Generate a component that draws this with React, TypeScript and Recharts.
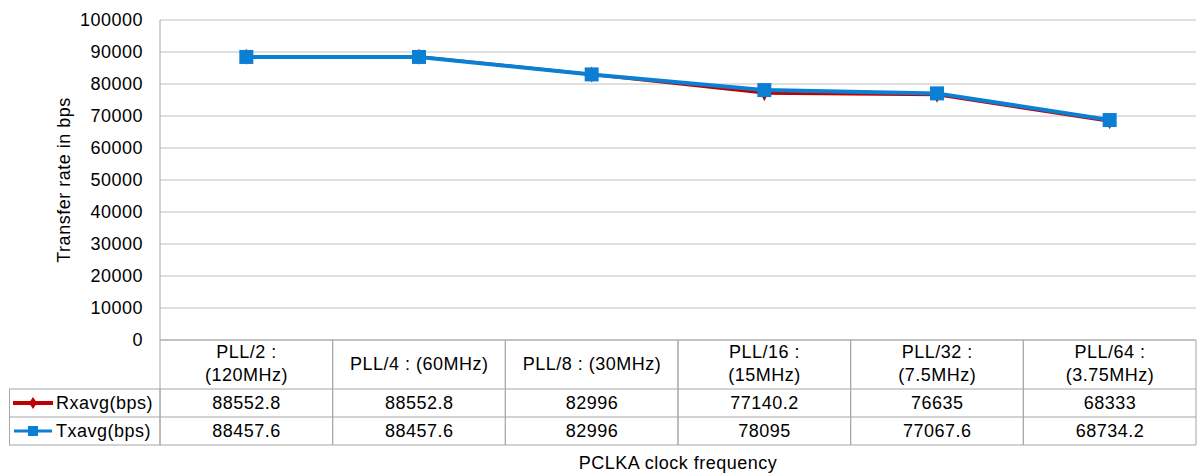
import { LineChart, Line, XAxis, YAxis, CartesianGrid } from 'recharts'

const categories = [
  'PLL/2 : (120MHz)',
  'PLL/4 : (60MHz)',
  'PLL/8 : (30MHz)',
  'PLL/16 : (15MHz)',
  'PLL/32 : (7.5MHz)',
  'PLL/64 : (3.75MHz)',
]
const headerLines = [
  ['PLL/2 :', '(120MHz)'],
  ['PLL/4 : (60MHz)'],
  ['PLL/8 : (30MHz)'],
  ['PLL/16 :', '(15MHz)'],
  ['PLL/32 :', '(7.5MHz)'],
  ['PLL/64 :', '(3.75MHz)'],
]
const rxValues = [88552.8, 88552.8, 82996, 77140.2, 76635, 68333]
const txValues = [88457.6, 88457.6, 82996, 78095, 77067.6, 68734.2]
const yTicks = [0, 10000, 20000, 30000, 40000, 50000, 60000, 70000, 80000, 90000, 100000]

const data = categories.map((category, i) => ({
  category,
  rx: rxValues[i],
  tx: txValues[i],
}))

const W = 1197
const H = 473
const PLOT_LEFT = 160
const PLOT_RIGHT = 1196
const PLOT_TOP = 20
const PLOT_BOTTOM = 340
const COL_W = (PLOT_RIGHT - PLOT_LEFT) / categories.length
const ROW1 = 389
const ROW2 = 417
const ROW3 = 445
const BORDER = '#a6a6a6'
const RED = '#c00000'
const BLUE = '#0a7fd4'
const FONT = '"Liberation Sans", Arial, sans-serif'
const FS = 18
const LS = 0.5

function TableTick(props: any) {
  const { x, payload } = props
  const i = payload.index
  const lines = headerLines[i]
  const left = x - COL_W / 2
  const right = x + COL_W / 2
  const cx = x + LS / 2
  return (
    <g fontFamily={FONT} fontSize={FS} fill="#000" letterSpacing={LS}>
      {lines.length === 1 ? (
        <text x={cx} y={PLOT_BOTTOM + 25} textAnchor="middle" dominantBaseline="middle">
          {lines[0]}
        </text>
      ) : (
        lines.map((l, k) => (
          <text key={k} x={cx} y={PLOT_BOTTOM + 13 + k * 23} textAnchor="middle" dominantBaseline="middle">
            {l}
          </text>
        ))
      )}
      <text x={cx} y={(ROW1 + ROW2) / 2 + 1} textAnchor="middle" dominantBaseline="middle">
        {String(rxValues[i])}
      </text>
      <text x={cx} y={(ROW2 + ROW3) / 2 + 1} textAnchor="middle" dominantBaseline="middle">
        {String(txValues[i])}
      </text>
      <line x1={right} y1={PLOT_BOTTOM} x2={right} y2={ROW3} stroke={BORDER} />
      <line x1={left} y1={PLOT_BOTTOM} x2={left} y2={ROW3} stroke={BORDER} />
      <line x1={left} y1={ROW1} x2={right} y2={ROW1} stroke={BORDER} />
      <line x1={left} y1={ROW2} x2={right} y2={ROW2} stroke={BORDER} />
      <line x1={left} y1={ROW3} x2={right} y2={ROW3} stroke={BORDER} />
      {i === 0 && (
        <g>
          <rect x={9.5} y={ROW1} width={PLOT_LEFT - 9.5} height={ROW3 - ROW1} fill="none" stroke={BORDER} />
          <line x1={9.5} y1={ROW2} x2={PLOT_LEFT} y2={ROW2} stroke={BORDER} />
          <line x1={13} y1={403} x2={53} y2={403} stroke={RED} strokeWidth={4} />
          <path d="M33 397 L37 403 L33 409 L29 403 Z" fill={RED} />
          <text x={56} y={404} dominantBaseline="middle">Rxavg(bps)</text>
          <line x1={14} y1={431} x2={52} y2={431} stroke={BLUE} strokeWidth={3} />
          <rect x={28} y={426} width={10} height={10} fill={BLUE} />
          <text x={56} y={432} dominantBaseline="middle">Txavg(bps)</text>
        </g>
      )}
    </g>
  )
}

function Diamond(props: any) {
  const { cx, cy } = props
  if (cx == null || cy == null) return null
  return <path d={`M${cx} ${cy - 8} L${cx + 4} ${cy} L${cx} ${cy + 8} L${cx - 4} ${cy} Z`} fill={RED} />
}

function Square(props: any) {
  const { cx, cy } = props
  if (cx == null || cy == null) return null
  return <rect x={cx - 7} y={cy - 7} width={14} height={14} fill={BLUE} />
}

export default function App() {
  return (
    <div style={{ position: 'absolute', left: 0, top: 0, background: '#fff' }}>
      <LineChart
        width={W}
        height={H}
        data={data}
        margin={{ top: PLOT_TOP, right: W - PLOT_RIGHT, left: 0, bottom: 0 }}
        style={{ fontFamily: FONT }}
      >
        <CartesianGrid vertical={false} stroke="#c0c0c0" strokeWidth={1} />
        <XAxis
          dataKey="category"
          type="category"
          height={H - PLOT_BOTTOM}
          padding={{ left: COL_W / 2, right: COL_W / 2 }}
          axisLine={{ stroke: BORDER }}
          tickLine={false}
          interval={0}
          tick={<TableTick />}
          label={{
            value: 'PCLKA clock frequency',
            position: 'insideBottom',
            offset: 4,
            fill: '#000',
            fontSize: FS,
            letterSpacing: LS,
          }}
        />
        <YAxis
          width={PLOT_LEFT}
          domain={[0, 100000]}
          ticks={yTicks}
          interval={0}
          tickLine={false}
          tickSize={0}
          tickMargin={17}
          axisLine={{ stroke: BORDER }}
          tick={{ fill: '#000', fontSize: FS, letterSpacing: LS }}
          label={{
            value: 'Transfer rate in bps',
            angle: -90,
            position: 'center',
            dx: -16,
            fill: '#000',
            fontSize: FS,
            letterSpacing: LS,
          }}
        />
        <Line
          dataKey="rx"
          stroke={RED}
          strokeWidth={3}
          dot={<Diamond />}
          activeDot={false}
          isAnimationActive={false}
        />
        <Line
          dataKey="tx"
          stroke={BLUE}
          strokeWidth={4}
          dot={<Square />}
          activeDot={false}
          isAnimationActive={false}
        />
      </LineChart>
    </div>
  )
}
